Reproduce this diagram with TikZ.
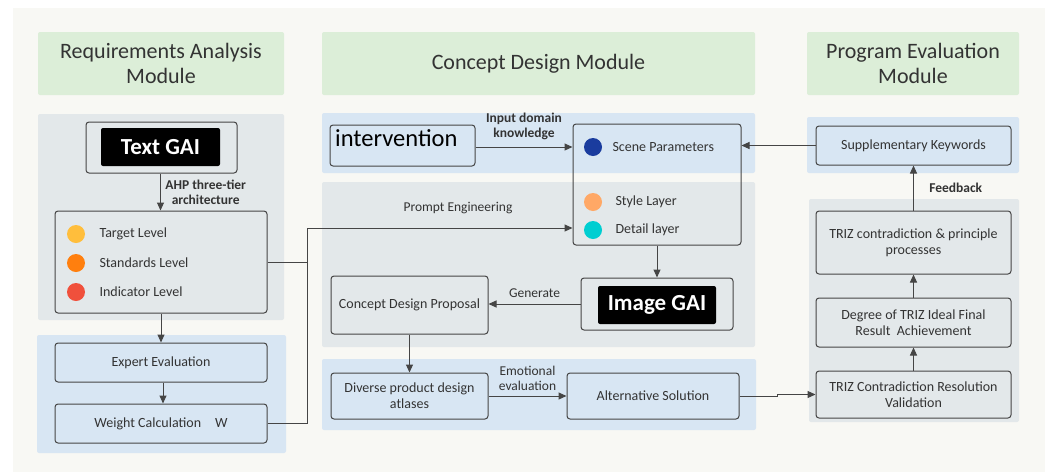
\documentclass[tikz,border=0pt]{standalone}
\usepackage{fontspec}
\setmainfont{Carlito}
\usetikzlibrary{arrows.meta,positioning}
\definecolor{bgc}{HTML}{F8F8F4}
\definecolor{headc}{HTML}{DCEED8}
\definecolor{grayp}{HTML}{E3E8EA}
\definecolor{bluep}{HTML}{D8E6F3}
\definecolor{linec}{HTML}{454545}
\definecolor{txtc}{HTML}{333333}
\definecolor{targetc}{HTML}{FFBE3C}
\definecolor{standc}{HTML}{FF7F0E}
\definecolor{indic}{HTML}{F0503C}
\definecolor{scenec}{HTML}{1A3C9E}
\definecolor{stylec}{HTML}{FFA866}
\definecolor{detailc}{HTML}{00CED1}
\tikzset{
  box/.style={draw=linec,line width=1pt,rounded corners=3pt,align=center,text=txtc,
    font=\fontsize{14}{16}\selectfont,inner sep=2pt},
  gai/.style={fill=black,text=white,rounded corners=2pt,inner sep=0pt,
    font=\fontsize{23}{25}\selectfont\bfseries},
  head/.style={text=txtc,align=center,font=\fontsize{22}{25}\selectfont},
  lbl/.style={text=txtc,align=center,font=\fontsize{13.5}{15}\selectfont},
  blbl/.style={text=txtc,align=center,font=\fontsize{13.5}{15}\selectfont\bfseries},
  item/.style={anchor=west,text=txtc,font=\fontsize{14}{16}\selectfont},
  dot/.style={circle,inner sep=0pt,minimum size=18pt},
  arr/.style={draw=linec,line width=1pt,-{Triangle[length=8pt,width=7pt]}},
  ln/.style={draw=linec,line width=1pt}
}
\begin{document}
\begin{tikzpicture}[x=1pt,y=-1pt]
\useasboundingbox (0,0) rectangle (1045,472);
% background and panels
\fill[white] (0,0) rectangle (1045,472);
\fill[bgc] (13,8) rectangle (1045,472);
\fill[headc,rounded corners=2pt] (38,32) rectangle (284,95);
\fill[headc,rounded corners=2pt] (322,32) rectangle (755,95);
\fill[headc,rounded corners=2pt] (807,32) rectangle (1019,95);
\fill[grayp,rounded corners=2pt] (38,114) rectangle (284,320);
\fill[bluep,rounded corners=2pt] (37,335) rectangle (286,453);
\fill[bluep,rounded corners=2pt] (322,113) rectangle (755,173);
\fill[grayp,rounded corners=2pt] (322,182) rectangle (755,347);
\fill[bluep,rounded corners=2pt] (322,359) rectangle (756,430);
\fill[bluep,rounded corners=2pt] (807,117) rectangle (1019,173);
\fill[grayp,rounded corners=2pt] (809,199) rectangle (1019,422);
% headings
\node[head] (hreq) at (161,63.5) {Requirements Analysis\\Module};
\node[head] (hcon) at (538.5,63.5) {Concept Design Module};
\node[head] (heva) at (913,63.5) {Program Evaluation\\Module};
% requirements analysis
\node[box,minimum width=151pt,minimum height=51pt] (textbox) at (161.5,147.5) {};
\node[gai,minimum width=119pt,minimum height=38pt] (textgai) at (160.5,147) {Text GAI};
\node[box,minimum width=212pt,minimum height=102pt] (levels) at (161,262) {};
\node[dot,fill=targetc] (d1) at (76,234) {};
\node[dot,fill=standc] (d2) at (76,263) {};
\node[dot,fill=indic] (d3) at (76,292) {};
\node[item] (t1) at (96,234) {Target Level};
\node[item] (t2) at (96,263) {Standards Level};
\node[item] (t3) at (96,292) {Indicator Level};
\node[box,minimum width=212pt,minimum height=39pt] (expert) at (161,362.5) {Expert Evaluation};
\node[box,minimum width=212pt,minimum height=39pt] (weight) at (161,423.5) {Weight Calculation\quad W};
% concept design
\node[box,minimum width=145pt,minimum height=41pt] (interv) at (402.5,145.5) {};
\node[anchor=west,font=\fontsize{24.5}{26}\selectfont,inner sep=0pt] (intervt) at (335,138) {intervention};
\node[box,minimum width=168pt,minimum height=121pt] (scene) at (657,184.5) {};
\node[dot,fill=scenec] (s1) at (593,147) {};
\node[dot,fill=stylec] (s2) at (593,202) {};
\node[dot,fill=detailc] (s3) at (593,230) {};
\node[item] (st1) at (609,147) {Scene Parameters};
\node[item] (st2) at (612,202) {Style Layer};
\node[item] (st3) at (612,230) {Detail layer};
\node[box,minimum width=152pt,minimum height=52pt] (imgbox) at (657,304) {};
\node[gai,minimum width=118pt,minimum height=38pt] (imggai) at (657,305) {Image GAI};
\node[box,minimum width=157pt,minimum height=58pt] (cdp) at (409.5,305) {Concept Design Proposal};
\node[box,minimum width=157pt,minimum height=46pt] (diverse) at (409.5,396) {Diverse product design\\atlases};
\node[box,minimum width=172pt,minimum height=46pt] (alt) at (653,396) {Alternative Solution};
% program evaluation
\node[box,minimum width=195pt,minimum height=39pt] (supp) at (913.5,145.5) {Supplementary Keywords};
\node[box,minimum width=195pt,minimum height=63pt] (contra) at (913.5,242.5) {TRIZ contradiction \& principle\\processes};
\node[box,minimum width=195pt,minimum height=49pt] (degree) at (913.5,322.5) {Degree of TRIZ Ideal Final\\Result\ \ Achievement};
\node[box,minimum width=195pt,minimum height=47pt] (valid) at (913.5,394.5) {TRIZ Contradiction Resolution\\Validation};
% connectors
\draw[arr] (textbox.south -| textgai) -- (levels.north -| textgai) node[blbl,midway,right=1pt] {AHP three-tier\\architecture};
\draw[arr] (levels) -- (expert);
\draw[arr] (expert.south -| 163,0) -- (weight.north -| 163,0);
\coordinate (pe) at (307,228);
\draw[ln] (levels.east) -- (levels.east -| pe);
\draw[arr] (weight.east) -| (pe) -- (pe -| scene.west);
\node[lbl] (plbl) at (458,208) {Prompt Engineering};
\draw[arr] (interv.east |- s1) -- (scene.west |- s1) node[blbl,midway,above=3pt] {Input domain\\knowledge};
\draw[arr] (supp.west) -- (supp.west -| scene.east);
\draw[arr] (scene) -- (imgbox);
\draw[arr] (imgbox.west) -- (cdp.east |- imgbox.west) node[lbl,midway,above=3pt] {Generate};
\draw[arr] (cdp) -- (diverse);
\draw[arr] (diverse) -- (alt) node[lbl,midway,above=2pt] {Emotional\\evaluation};
\draw[arr] (alt.east) -- ++(38,0) |- (valid.west);
\draw[arr] (valid) -- (degree);
\draw[arr] (degree) -- (contra);
\draw[arr] (contra) -- (supp) node[blbl,midway,right=12pt] {Feedback};
\end{tikzpicture}
\end{document}
